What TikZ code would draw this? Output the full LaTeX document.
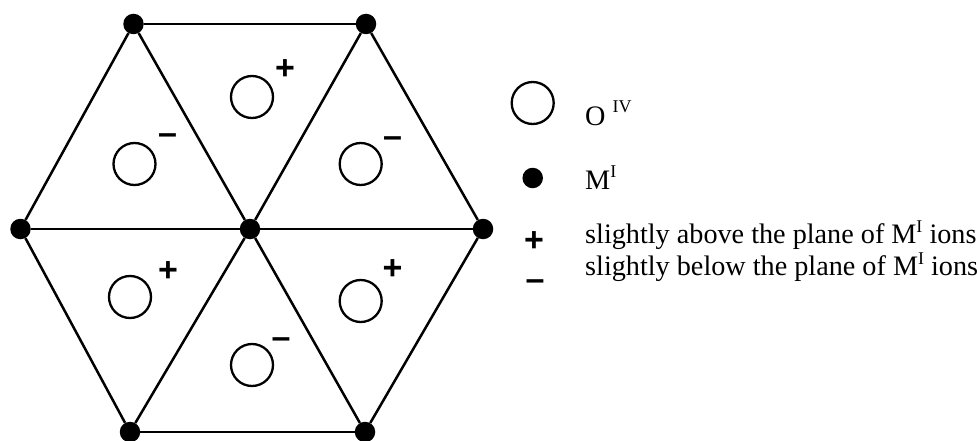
\documentclass[tikz,border=0pt]{standalone}
\usepackage{fontspec}
\setmainfont{Liberation Serif}
\newfontfamily\signfont{Liberation Sans}
\newcommand{\supr}[2][11pt]{\raisebox{#1}{\fontsize{18}{18}\selectfont #2}}
\tikzset{
  vertexdot/.style={circle,fill=black,inner sep=0pt,minimum size=20.5pt},
  ioncircle/.style={circle,draw=black,line width=2.3pt,inner sep=0pt,minimum size=42pt},
  bond/.style={draw=black,line width=2.5pt},
  plussign/.style={inner sep=0pt,anchor=base,yshift=-11.4pt,font=\signfont\bfseries\fontsize{34}{34}\selectfont},
  minussign/.style={inner sep=0pt,anchor=base,yshift=-9.3pt,font=\signfont\bfseries\fontsize{34}{34}\selectfont},
  legendtext/.style={inner sep=0pt,anchor=base west,font=\fontsize{28.2}{30}\selectfont}
}
\begin{document}
\begin{tikzpicture}[x=1pt,y=-1pt]
\useasboundingbox (0,0) rectangle (977,441);
\node[vertexdot] (tl) at (133.5,24) {};
\node[vertexdot] (tr) at (366,24) {};
\node[vertexdot] (l) at (20.5,229) {};
\node[vertexdot] (c) at (250,229) {};
\node[vertexdot] (r) at (483,229) {};
\node[vertexdot] (bl) at (130,432) {};
\node[vertexdot] (br) at (365,432) {};
\draw[bond] (tl) -- (tr);
\draw[bond] (tr) -- (r);
\draw[bond] (r) -- (br);
\draw[bond] (br) -- (bl);
\draw[bond] (bl) -- (l);
\draw[bond] (l) -- (tl);
\draw[bond] (c) -- (tl);
\draw[bond] (c) -- (tr);
\draw[bond] (c) -- (r);
\draw[bond] (c) -- (br);
\draw[bond] (c) -- (bl);
\draw[bond] (c) -- (l);
\node[ioncircle] (o1) at (134.5,164) {};
\node[ioncircle] (o2) at (252,97) {};
\node[ioncircle] (o3) at (360.7,164) {};
\node[ioncircle] (o4) at (130,297) {};
\node[ioncircle] (o5) at (252,365) {};
\node[ioncircle] (o6) at (360.7,301) {};
\node[minussign] (s1) at (167.5,135) {–};
\node[plussign] (s2) at (285,68) {+};
\node[minussign] (s3) at (392.5,138.5) {–};
\node[plussign] (s4) at (168,270) {+};
\node[minussign] (s5) at (281,339) {–};
\node[plussign] (s6) at (392.5,268) {+};
\node[ioncircle] (lo) at (532.7,103) {};
\node[vertexdot] (lm) at (532.7,178) {};
\node[plussign] (lp) at (534,240) {+};
\node[minussign] (ln) at (535,281) {–};
\node[legendtext] (t1) at (585,125.7) {O \supr[13pt]{IV}};
\node[legendtext] (t2) at (585,189) {M\supr{I}};
\node[legendtext] (t3) at (585,243) {slightly above the plane of M\supr{I} ions};
\node[legendtext] (t4) at (585,275) {slightly below the plane of M\supr{I} ions};
\end{tikzpicture}
\end{document}
